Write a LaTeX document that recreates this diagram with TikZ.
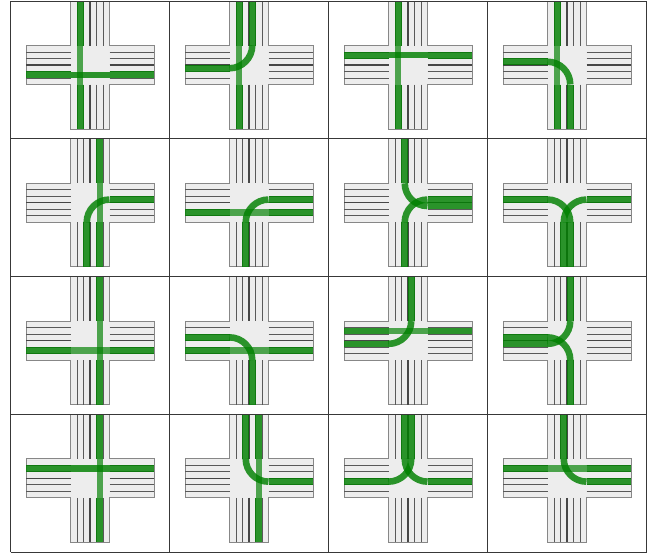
\documentclass[tikz,border=0pt]{standalone}
\usepackage{xcolor}
\usepackage{tikz}
\definecolor{roadgrey}{rgb}{0.93,0.93,0.93}
\definecolor{kerbgrey}{rgb}{0.53,0.53,0.53}
\definecolor{flowgreen}{rgb}{0.00,0.50,0.00}
\tikzset{
  road/.style={draw=kerbgrey,fill=roadgrey,line width=1pt},
  laneline/.style={draw=black!65,line width=0.85pt},
  midline/.style={draw=black!72,line width=1.25pt},
  flow/.style={draw=flowgreen,line width=6.6pt,opacity=0.82},
  passlight/.style={draw=flowgreen,line width=6.4pt,opacity=0.68},
  passdark/.style={draw=flowgreen,line width=6.4pt,opacity=0.82},
  cellframe/.style={draw=black!78,line width=1pt}
}
% lane centres, left to right and top to bottom
\def\la{-16.25}\def\lb{-9.75}\def\lc{-3.25}\def\ld{3.25}\def\le{9.75}\def\lf{16.25}
% one empty crossing
\newcommand{\crossing}{
  \draw[road] (-19.5,-64) -- (19.5,-64) -- (19.5,-19.5) -- (64,-19.5) -- (64,19.5) -- (19.5,19.5)
    -- (19.5,64) -- (-19.5,64) -- (-19.5,19.5) -- (-64,19.5) -- (-64,-19.5) -- (-19.5,-19.5) -- cycle;
  \foreach \off in {-13,-6.5,6.5,13} {
    \draw[laneline] (\off,-64) -- (\off,-19.5);
    \draw[laneline] (\off,19.5) -- (\off,64);
    \draw[laneline] (-64,\off) -- (-19.5,\off);
    \draw[laneline] (19.5,\off) -- (64,\off);
  }
  \draw[midline] (0,-64) -- (0,-19.5);
  \draw[midline] (0,19.5) -- (0,64);
  \draw[midline] (-64,0) -- (-19.5,0);
  \draw[midline] (19.5,0) -- (64,0);
}
% straight on, north-south: #1 lane
\newcommand{\passV}[1]{
  \draw[flow] (#1,-64) -- (#1,-19.5);
  \draw[passlight] (#1,-19.5) -- (#1,19.5);
  \draw[flow] (#1,19.5) -- (#1,64);
}
% straight on, west-east: #1 lane, #2 style
\newcommand{\passH}[2]{
  \draw[flow] (-64,#1) -- (-19.5,#1);
  \draw[#2] (-19.5,#1) -- (19.5,#1);
  \draw[flow] (19.5,#1) -- (64,#1);
}
% turn: #1 lane and #2 side (-1 north, 1 south), #3 side (-1 west, 1 east) and #4 lane
\newcommand{\turn}[4]{
  \draw[flow] (#1,{#2*64}) -- (#1,{#2*19.5});
  \draw[flow] (#1,{#2*19.5}) .. controls (#1,{#2*6.94}) and ({#3*6.94},#4) .. ({#3*19.5},#4);
  \draw[flow] ({#3*19.5},#4) -- ({#3*64},#4);
}
\newcommand{\cell}[3]{
  \begin{scope}[shift={({90+159*#1},{65+137.8*#2})}]
    \crossing
    #3
  \end{scope}
}
\begin{document}
\begin{tikzpicture}[x=1pt,y=-1pt]
  \useasboundingbox (0,0) rectangle (655,554);
  % first row
  \cell{0}{0}{\passH{\le}{passdark}\passV{\lb}}
  \cell{1}{0}{\passV{\lb}\turn{\ld}{-1}{-1}{\ld}}
  \cell{2}{0}{\passH{\lb}{passdark}\passV{\lb}}
  \cell{3}{0}{\passV{\lb}\turn{\ld}{1}{-1}{\lc}}
  % second row
  \cell{0}{1}{\passV{\le}\turn{\lc}{1}{1}{\lc}}
  \cell{1}{1}{\passH{\le}{passlight}\turn{\lc}{1}{1}{\lc}}
  \cell{2}{1}{\turn{\lc}{-1}{1}{\ld}\turn{\lc}{1}{1}{\lc}}
  \cell{3}{1}{\turn{\ld}{1}{-1}{\lc}\turn{\lc}{1}{1}{\lc}}
  % third row
  \cell{0}{2}{\passH{\le}{passlight}\passV{\le}}
  \cell{1}{2}{\passH{\le}{passlight}\turn{\ld}{1}{-1}{\lc}}
  \cell{2}{2}{\passH{\lb}{passlight}\turn{\ld}{-1}{-1}{\ld}}
  \cell{3}{2}{\turn{\ld}{-1}{-1}{\ld}\turn{\ld}{1}{-1}{\lc}}
  % fourth row
  \cell{0}{3}{\passH{\lb}{passdark}\passV{\le}}
  \cell{1}{3}{\passV{\le}\turn{\lc}{-1}{1}{\ld}}
  \cell{2}{3}{\turn{\ld}{-1}{-1}{\ld}\turn{\lc}{-1}{1}{\ld}}
  \cell{3}{3}{\passH{\lb}{passlight}\turn{\lc}{-1}{1}{\ld}}
  % cell frames
  \foreach \col in {0,...,4}
    \draw[cellframe] ({10.5+159*\col},1) -- ({10.5+159*\col},552.2);
  \foreach \row in {0,...,4}
    \draw[cellframe] (10.5,{1+137.8*\row}) -- (646.5,{1+137.8*\row});
\end{tikzpicture}
\end{document}
